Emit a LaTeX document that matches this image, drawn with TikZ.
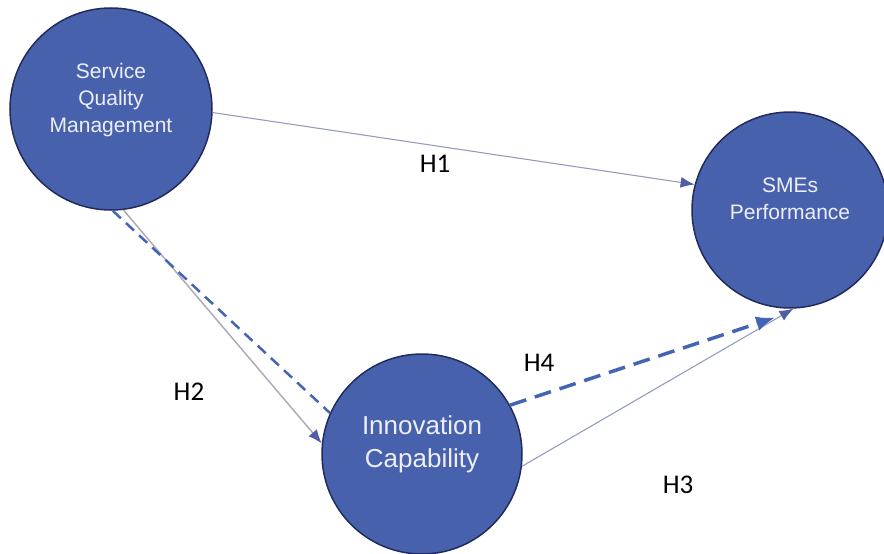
\documentclass[tikz,border=0pt]{standalone}
\usepackage{fontspec}
\setmainfont{Liberation Sans}
\newfontfamily\hypfont{Carlito}
\usepackage{tikz}
\usetikzlibrary{arrows.meta,positioning}

\definecolor{factorblue}{RGB}{72,97,172}
\definecolor{factorrim}{RGB}{34,44,92}
\definecolor{factortxt}{RGB}{236,239,250}
\definecolor{pathgrey}{RGB}{150,156,190}
\definecolor{pathlight}{RGB}{172,172,184}
\definecolor{tipblue}{RGB}{78,94,168}
\definecolor{dashblue}{RGB}{68,100,180}

\begin{document}
\begin{tikzpicture}[x=1pt, y=-1pt,
    factor/.style={circle, draw=factorrim, line width=1.5pt, fill=factorblue, inner sep=0pt},
    factortext/.style={text=factortxt, align=center},
    hyp/.style={font=\hypfont\fontsize{27}{30}\selectfont},
    direct/.style={color=pathgrey, line width=1.1pt,
      -{Latex[length=14pt, width=11pt, color=tipblue, fill=tipblue]}},
    indirect/.style={color=dashblue, line width=3.5pt, dash pattern=on 17pt off 9pt,
      -{Latex[length=19pt, width=15pt, color=dashblue, fill=dashblue]}}]
  \useasboundingbox (0,0) rectangle (884,554);

  % constructs
  \node[factor, minimum size=202pt] (sqm) at (111,109) {};
  \node[factor, minimum size=196pt] (sme) at (790,210) {};
  \node[factor, minimum size=200pt] (inn) at (422,454) {};

  \node[factortext, font=\fontsize{21}{27}\selectfont] (sqm-text) at ([yshift=9pt]sqm.center) {Service\\Quality\\Management};
  \node[factortext, font=\fontsize{21}{27}\selectfont] (sme-text) at ([yshift=11pt]sme.center) {SMEs\\Performance};
  \node[factortext, font=\fontsize{26}{33}\selectfont] (inn-text) at ([yshift=10pt]inn.center) {Innovation\\Capability};

  % hypotheses
  \path[direct]
    (sqm.-2) edge (sme.165)
    (inn.-7) edge (sme.-88);
  \path[direct, color=pathlight, line width=1.5pt]
    (sqm.-83) edge (inn.174);
  \draw[dashblue, line width=2.5pt, dash pattern=on 11pt off 7pt]
    (sqm.-89) -- (inn.156);
  \path[indirect]
    (inn.29) edge[shorten >=32pt] (sme.-81);

  \node[hyp] (h1) at (435,164) {H1};
  \node[hyp] (h2) at (189,392) {H2};
  \node[hyp] (h3) at (678,485) {H3};
  \node[hyp] (h4) at (539,363) {H4};
\end{tikzpicture}
\end{document}
